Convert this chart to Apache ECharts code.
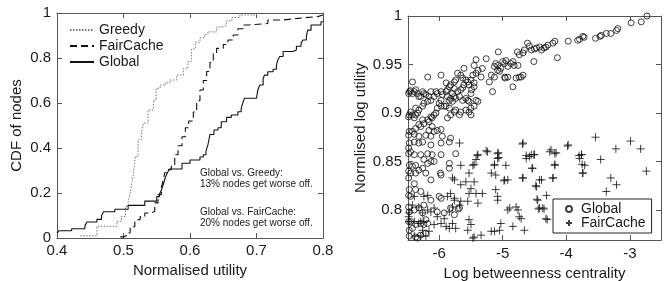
<!DOCTYPE html>
<html>
<head>
<meta charset="utf-8">
<script src="https://cdn.jsdelivr.net/npm/echarts@6/dist/echarts.min.js"></script>
<style>
  html, body { margin: 0; padding: 0; background: #fff; }
  #main { width: 670px; height: 281px; }
</style>
</head>
<body>
<div id="main"></div>
<script>
// ---- left panel: CDF of normalised utility, [utility, cdf] at each step ----
const greedyCdf = [
  [0.435,0.010],[0.460,0.052],[0.490,0.074],[0.497,0.096],[0.503,0.141],[0.507,0.160],
  [0.510,0.200],[0.513,0.250],[0.515,0.289],[0.518,0.363],[0.522,0.437],[0.527,0.470],
  [0.530,0.511],[0.537,0.569],[0.545,0.613],[0.549,0.665],[0.555,0.680],[0.563,0.690],
  [0.570,0.702],[0.580,0.724],[0.590,0.754],[0.597,0.784],[0.602,0.840],[0.608,0.870],
  [0.615,0.890],[0.622,0.905],[0.627,0.916],[0.640,0.938],[0.648,0.945],[0.655,0.965],
  [0.663,0.980],[0.675,0.991],[0.700,1.000]
];
const fairCacheCdf = [
  [0.495,0.005],[0.500,0.011],[0.505,0.022],[0.510,0.050],[0.517,0.081],[0.525,0.095],
  [0.532,0.111],[0.542,0.119],[0.547,0.156],[0.552,0.193],[0.557,0.225],[0.560,0.260],
  [0.562,0.290],[0.567,0.304],[0.572,0.320],[0.577,0.370],[0.582,0.410],[0.588,0.450],
  [0.593,0.490],[0.598,0.520],[0.605,0.560],[0.610,0.610],[0.615,0.658],[0.620,0.700],
  [0.625,0.740],[0.630,0.780],[0.635,0.820],[0.640,0.843],[0.650,0.860],[0.657,0.880],
  [0.665,0.902],[0.672,0.930],[0.680,0.947],[0.688,0.953],[0.717,0.969],[0.740,0.976],
  [0.762,0.984],[0.792,0.991],[0.800,0.991]
];
const globalCdf = [
  [0.400,0.022],[0.403,0.032],[0.422,0.041],[0.442,0.055],[0.445,0.071],[0.460,0.083],
  [0.467,0.100],[0.470,0.117],[0.487,0.128],[0.507,0.145],[0.532,0.164],[0.550,0.184],
  [0.554,0.194],[0.557,0.213],[0.560,0.240],[0.563,0.270],[0.566,0.290],[0.569,0.307],
  [0.588,0.332],[0.600,0.347],[0.615,0.360],[0.620,0.370],[0.624,0.385],[0.627,0.415],
  [0.630,0.460],[0.636,0.480],[0.642,0.490],[0.647,0.517],[0.655,0.536],[0.662,0.547],
  [0.672,0.561],[0.677,0.576],[0.680,0.606],[0.682,0.621],[0.700,0.628],[0.702,0.658],
  [0.705,0.680],[0.710,0.710],[0.712,0.724],[0.717,0.739],[0.725,0.750],[0.730,0.769],
  [0.732,0.791],[0.735,0.807],[0.740,0.829],[0.755,0.836],[0.760,0.852],[0.767,0.867],
  [0.770,0.880],[0.775,0.898],[0.777,0.924],[0.782,0.947],[0.797,0.961],[0.800,0.961]
];
const notes = [
  'Global vs. Greedy:', '13% nodes get worse off.',
  'Global vs. FairCache:', '20% nodes get worse off.'
];

// ---- right panel: [log betweenness centrality, normalised log utility] ----
const globalPts = [
  [-2.73,1.000],[-2.82,0.994],[-2.98,0.993],[-3.19,0.987],[-3.21,0.985],[-3.30,0.982],
  [-3.37,0.982],[-3.45,0.980],[-3.47,0.979],[-3.54,0.977],[-3.72,0.978],[-3.74,0.979],
  [-3.79,0.976],[-3.82,0.975],[-3.97,0.974],[-4.18,0.974],[-4.21,0.972],[-4.29,0.970],
  [-4.32,0.968],[-4.35,0.967],[-4.39,0.965],[-4.42,0.968],[-4.47,0.967],[-4.50,0.966],
  [-4.55,0.965],[-4.58,0.969],[-4.61,0.972],[-4.66,0.965],[-4.68,0.962],[-4.74,0.960],
  [-4.77,0.963],[-4.14,0.957],[-4.51,0.953],[-5.07,0.963],[-5.00,0.953],[-4.97,0.951],
  [-4.95,0.954],[-4.87,0.951],[-4.84,0.953],[-4.82,0.949],[-4.92,0.948],[-5.08,0.949],
  [-5.11,0.951],[-5.13,0.948],[-5.08,0.944],[-5.05,0.943],[-5.03,0.946],[-4.97,0.937],
  [-4.92,0.937],[-4.76,0.949],[-4.68,0.939],[-4.71,0.937],[-4.74,0.937],[-4.79,0.936],
  [-4.84,0.927],[-4.96,0.936],[-5.13,0.937],[-5.18,0.939],[-5.21,0.932],[-5.16,0.922],
  [-5.26,0.956],[-5.42,0.955],[-5.45,0.949],[-5.39,0.944],[-5.42,0.941],[-5.47,0.939],
  [-5.50,0.934],[-5.53,0.929],[-5.45,0.931],[-5.34,0.937],[-5.32,0.946],[-5.61,0.946],
  [-5.66,0.939],[-5.71,0.941],[-5.74,0.934],[-5.63,0.936],[-5.58,0.934],[-5.55,0.932],
  [-5.61,0.929],[-5.63,0.926],[-5.66,0.924],[-5.71,0.922],[-5.76,0.925],[-5.79,0.920],
  [-5.82,0.915],[-5.84,0.913],[-5.79,0.912],[-5.76,0.917],[-5.74,0.915],[-5.68,0.917],
  [-5.63,0.913],[-5.58,0.915],[-5.55,0.913],[-5.53,0.912],[-5.50,0.920],[-5.49,0.924],
  [-5.45,0.927],[-5.42,0.913],[-5.39,0.912],[-5.45,0.907],[-5.50,0.905],[-5.53,0.901],
  [-5.50,0.898],[-5.58,0.903],[-5.66,0.901],[-5.68,0.898],[-5.74,0.903],[-5.76,0.901],
  [-5.82,0.898],[-5.87,0.895],[-5.84,0.905],[-5.89,0.907],[-5.92,0.907],[-5.97,0.907],
  [-6.03,0.905],[-6.05,0.900],[-6.08,0.898],[-6.11,0.895],[-6.13,0.913],[-6.08,0.917],
  [-6.05,0.922],[-6.03,0.920],[-5.97,0.922],[-5.95,0.919],[-5.89,0.922],[-5.87,0.924],
  [-5.84,0.927],[-5.76,0.932],[-5.82,0.929],[-5.89,0.931],[-5.97,0.939],[-5.97,0.913],
  [-6.00,0.910],[-5.87,0.917],[-6.18,0.937],[-6.13,0.922],[-6.16,0.917],[-6.18,0.912],
  [-6.24,0.910],[-6.26,0.907],[-6.32,0.903],[-6.34,0.900],[-6.37,0.898],[-6.39,0.895],
  [-6.42,0.898],[-6.45,0.901],[-6.47,0.898],[-6.48,0.896],[-6.37,0.905],[-6.32,0.917],
  [-6.26,0.922],[-6.29,0.917],[-6.34,0.920],[-6.37,0.924],[-6.39,0.922],[-6.42,0.920],
  [-6.45,0.923],[-6.47,0.922],[-6.48,0.920],[-6.24,0.920],[-6.42,0.932],[-6.21,0.919],
  [-6.13,0.896],[-6.16,0.891],[-6.18,0.893],[-6.24,0.889],[-6.26,0.893],[-6.29,0.886],
  [-6.32,0.888],[-6.37,0.884],[-6.42,0.881],[-6.47,0.881],[-6.48,0.877],[-6.16,0.882],
  [-6.11,0.886],[-6.13,0.876],[-6.03,0.882],[-5.97,0.883],[-5.95,0.876],[-5.82,0.874],
  [-6.08,0.881],[-6.21,0.877],[-6.32,0.876],[-6.39,0.878],
  [-6.48,0.864],[-6.47,0.869],[-6.39,0.870],[-6.32,0.869],[-6.26,0.870],[-6.13,0.867],
  [-5.97,0.869],[-5.84,0.870],[-6.48,0.858],[-6.45,0.860],[-6.39,0.857],[-6.29,0.857],
  [-6.18,0.858],[-6.11,0.857],[-5.97,0.857],[-5.74,0.858],[-5.84,0.848],[-5.84,0.843],
  [-6.13,0.850],[-6.08,0.850],[-6.18,0.848],[-6.24,0.852],[-6.47,0.846],[-6.42,0.845],
  [-6.37,0.846],[-6.32,0.841],[-6.26,0.843],[-6.21,0.838],[-6.13,0.831],[-5.98,0.838],
  [-5.97,0.836],[-6.48,0.840],[-6.45,0.838],[-6.48,0.833],[-6.37,0.838],[-6.39,0.827],
  [-6.47,0.821],[-6.48,0.815],[-6.45,0.814],[-6.37,0.821],[-6.29,0.819],[-6.13,0.810],
  [-6.00,0.814],[-5.97,0.812],[-6.24,0.805],[-6.48,0.803],[-6.47,0.798],[-6.39,0.800],
  [-6.32,0.802],[-6.26,0.797],[-6.21,0.790],[-6.45,0.788],[-6.37,0.785],[-6.29,0.786],
  [-6.24,0.785],[-6.18,0.786],[-6.03,0.798],[-6.47,0.779],[-6.42,0.781],[-6.37,0.772],
  [-6.34,0.771],[-6.29,0.774],[-6.21,0.776],[-6.47,0.773],[-6.48,0.788],[-5.68,0.802],
  [-5.70,0.801],[-5.76,0.795],[-5.82,0.802],[-5.92,0.797]
];
const fairCachePts = [
  [-5.68,0.869],[-4.68,0.869],[-5.24,0.860],[-5.39,0.857],[-5.08,0.858],[-5.08,0.853],
  [-5.42,0.852],[-5.66,0.846],[-5.47,0.846],[-5.13,0.846],[-4.95,0.846],[-4.63,0.853],
  [-4.55,0.857],[-4.50,0.857],[-4.26,0.860],[-4.18,0.858],[-3.97,0.867],[-3.76,0.857],
  [-3.79,0.853],[-3.71,0.846],[-3.74,0.838],[-4.18,0.846],[-4.53,0.843],[-5.18,0.838],
  [-5.11,0.836],[-5.53,0.838],[-5.79,0.833],[-5.76,0.831],[-5.58,0.829],[-5.45,0.829],
  [-4.97,0.831],[-4.92,0.831],[-4.68,0.833],[-4.39,0.831],[-4.47,0.824],[-4.21,0.833],
  [-5.66,0.826],[-5.50,0.822],[-5.11,0.821],[-5.53,0.817],[-5.42,0.817],[-5.32,0.817],
  [-5.82,0.817],[-5.87,0.814],[-5.76,0.810],[-5.66,0.809],[-5.55,0.809],[-5.39,0.807],
  [-5.08,0.814],[-5.08,0.810],[-4.45,0.810],[-4.42,0.802],[-4.37,0.802],[-4.32,0.791],
  [-4.92,0.800],[-4.89,0.802],[-4.79,0.803],[-4.76,0.800],[-4.74,0.793],[-4.71,0.791],
  [-5.03,0.786],[-4.84,0.783],[-4.66,0.779],[-5.18,0.778],[-5.13,0.778],[-5.05,0.779],
  [-5.34,0.774],[-5.47,0.771],[-5.45,0.772],[-5.55,0.779],[-5.53,0.790],[-5.50,0.785],
  [-5.79,0.786],[-5.74,0.781],[-5.84,0.781],[-5.89,0.783],[-5.97,0.786],[-6.03,0.793],
  [-6.13,0.798],[-6.18,0.800],[-6.26,0.797],[-6.32,0.803],[-6.39,0.814],[-6.42,0.805],
  [-6.47,0.797],[-6.47,0.788],[-6.39,0.788],[-6.32,0.786],[-6.29,0.788],[-6.24,0.788],
  [-6.26,0.779],[-6.16,0.778],[-6.39,0.773],[-6.29,0.773],[-6.21,0.773],[-6.08,0.785],
  [-5.92,0.791],[-5.84,0.798],[-5.79,0.803],[-5.68,0.805],[-5.76,0.812],[-6.18,0.815],
  [-6.24,0.814],[-6.08,0.802],[-6.48,0.793],
  [-3.54,0.875],[-2.99,0.871],[-2.83,0.863],[-3.22,0.863],[-3.98,0.866],[-4.24,0.862],
  [-4.16,0.859],[-4.51,0.857],[-3.80,0.856],[-3.76,0.857],[-4.18,0.847],[-3.75,0.847],
  [-3.46,0.852],[-3.74,0.838],[-2.74,0.840],[-4.21,0.833],[-3.30,0.833],[-3.21,0.826],
  [-4.42,0.831],[-4.48,0.825],[-3.37,0.819],[-4.31,0.815],[-4.46,0.811],[-4.44,0.801],
  [-4.35,0.801],[-4.30,0.790],[-4.54,0.843],
  [-4.69,0.868],[-5.40,0.856],[-5.26,0.861],[-5.07,0.859],[-5.06,0.854],[-5.45,0.847],
  [-5.13,0.847],[-4.58,0.855],[-4.63,0.856],[-4.69,0.833],[-4.98,0.830]
];
const xTicksRight = [-6, -5, -4, -3];
const yTicksRight = [0.8, 0.85, 0.9, 0.95, 1];

const FONT = '"Liberation Sans", Arial, Helvetica, sans-serif';
const AXIS = '#555';
const TEXT = '#1a1a1a';

function boxAxis(gridIndex, position, min, max, extra) {
  return Object.assign({
    gridIndex: gridIndex,
    type: 'value',
    position: position,
    min: min,
    max: max,
    splitLine: { show: false },
    axisLine: { onZero: false, lineStyle: { color: AXIS, width: 1 } },
    axisTick: { inside: true, length: 5, lineStyle: { color: AXIS } },
    axisLabel: { show: false },
    nameTextStyle: { fontSize: 15, color: TEXT, fontFamily: FONT }
  }, extra || {});
}

const label = (margin, custom) => {
  const l = { show: true, fontSize: 15, color: TEXT, fontFamily: FONT, margin: margin };
  if (custom) l.customValues = custom;
  return l;
};

const chart = echarts.init(document.getElementById('main'));

chart.setOption({
  animation: false,
  backgroundColor: '#fff',
  textStyle: { fontFamily: FONT },
  grid: [
    { left: 57, top: 13, width: 266, height: 225, outerBoundsMode: 'none' },
    { left: 408, top: 16, width: 253, height: 224, outerBoundsMode: 'none' }
  ],
  xAxis: [
    boxAxis(0, 'bottom', 0.4, 0.8, {
      interval: 0.1, axisLabel: label(5),
      name: 'Normalised utility', nameLocation: 'middle', nameGap: 22
    }),
    boxAxis(0, 'top', 0.4, 0.8, { interval: 0.1 }),
    boxAxis(1, 'bottom', -6.49, -2.51, {
      axisTick: { inside: true, length: 5, lineStyle: { color: AXIS }, customValues: xTicksRight },
      axisLabel: label(6, xTicksRight),
      name: 'Log betweenness centrality', nameLocation: 'middle', nameGap: 24
    }),
    boxAxis(1, 'top', -6.49, -2.51, {
      axisTick: { inside: true, length: 5, lineStyle: { color: AXIS }, customValues: xTicksRight }
    })
  ],
  yAxis: [
    boxAxis(0, 'left', 0, 1, {
      interval: 0.2, axisLabel: label(6),
      name: 'CDF of nodes', nameLocation: 'middle', nameGap: 33
    }),
    boxAxis(0, 'right', 0, 1, { interval: 0.2 }),
    boxAxis(1, 'left', 0.769, 1.0, {
      axisTick: { inside: true, length: 5, lineStyle: { color: AXIS }, customValues: yTicksRight },
      axisLabel: label(6, yTicksRight),
      name: 'Normlised log utility', nameLocation: 'middle', nameGap: 40
    }),
    boxAxis(1, 'right', 0.769, 1.0, {
      axisTick: { inside: true, length: 5, lineStyle: { color: AXIS }, customValues: yTicksRight }
    })
  ],
  legend: [
    {
      data: ['Greedy', 'FairCache', 'Global'],
      orient: 'vertical', left: 69, top: 23,
      itemWidth: 24, itemHeight: 14, itemGap: 2,
      padding: 0, selectedMode: false,
      itemStyle: { opacity: 0 },
      textStyle: { fontSize: 14, color: TEXT, fontFamily: FONT }
    },
    {
      data: ['sc-Global', 'sc-FairCache'],
      formatter: n => n.replace('sc-', ''),
      orient: 'vertical', left: 553, top: 199,
      itemWidth: 14, itemHeight: 6, itemGap: 0,
      padding: [3, 6, 3, 12], selectedMode: false,
      backgroundColor: '#fff', borderColor: '#222', borderWidth: 1,
      textStyle: { fontSize: 14, lineHeight: 14, color: TEXT, fontFamily: FONT }
    }
  ],
  graphic: notes.map((t, i) => ({
    type: 'text',
    x: 200,
    y: [173, 184.5, 212, 223.5][i],
    style: { text: t, font: '10px ' + FONT, fill: TEXT, verticalAlign: 'middle' },
    silent: true
  })),
  series: [
    {
      name: 'Greedy', type: 'line', step: 'end', xAxisIndex: 0, yAxisIndex: 0,
      data: greedyCdf, symbol: 'none', showSymbol: false,
      lineStyle: { color: '#777', width: 1, type: [1.5, 1.5] }, z: 3
    },
    {
      name: 'FairCache', type: 'line', step: 'end', xAxisIndex: 0, yAxisIndex: 0,
      data: fairCacheCdf, symbol: 'none', showSymbol: false,
      lineStyle: { color: '#111', width: 1.1, type: [7, 4] }, z: 4
    },
    {
      name: 'Global', type: 'line', step: 'end', xAxisIndex: 0, yAxisIndex: 0,
      data: globalCdf, symbol: 'none', showSymbol: false,
      lineStyle: { color: '#111', width: 1.1 }, z: 5
    },
    {
      name: 'sc-Global', type: 'scatter', xAxisIndex: 2, yAxisIndex: 2,
      data: globalPts, symbol: 'circle', symbolSize: 6,
      itemStyle: { color: 'rgba(0,0,0,0)', borderColor: '#111', borderWidth: 1 }
    },
    {
      name: 'sc-FairCache', type: 'scatter', xAxisIndex: 2, yAxisIndex: 2,
      data: fairCachePts, symbol: 'path://M0,5L10,5M5,0L5,10', symbolSize: 8,
      itemStyle: { color: 'rgba(0,0,0,0)', borderColor: '#111', borderWidth: 1 }
    }
  ]
});
</script>
</body>
</html>
